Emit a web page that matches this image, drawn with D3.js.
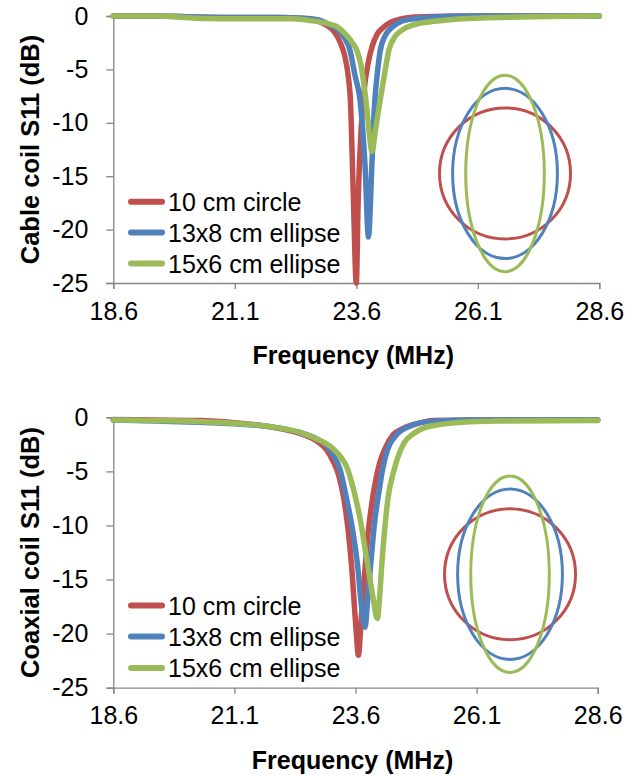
<!DOCTYPE html>
<html>
<head>
<meta charset="utf-8">
<script src="https://cdn.jsdelivr.net/npm/d3@7"></script>
<style>
  html, body { margin: 0; padding: 0; background: #fff; }
  svg { display: block; }
  text { font-family: "Liberation Sans", Arial, sans-serif; fill: #000; }
</style>
</head>
<body>
<svg id="chart" width="626" height="775"></svg>
<script>
// ---------------- data ----------------
const seriesNames = ["10 cm circle", "13x8 cm ellipse", "15x6 cm ellipse"];
const freqTicks = [18.6, 21.1, 23.6, 26.1, 28.6];
const s11Ticks = [0, -5, -10, -15, -20, -25];
const coilWidthCm = [10, 8, 6];
const coilHeightCm = [10, 13, 15];

// Cable coil
const cableCircleFreq = [18.6, 19.5, 20.3, 21.2, 22.0, 22.5, 22.8, 23.0, 23.15, 23.28, 23.36, 23.43, 23.48, 23.54, 23.6, 23.64, 23.7, 23.76, 23.84, 23.93, 24.03, 24.15, 24.3, 24.5, 24.8, 26.0, 27.0, 28.6];
const cableCircleS11 = [0, 0, -0.1, -0.15, -0.15, -0.2, -0.45, -0.9, -1.5, -2.6, -3.7, -5.5, -8, -17, -25, -17, -10.5, -7, -4.5, -2.8, -1.7, -1.1, -0.6, -0.3, -0.1, 0, 0, 0];

const cableEllipse13Freq = [18.6, 19.5, 20.3, 21.2, 22.0, 22.5, 22.8, 23.0, 23.2, 23.35, 23.47, 23.57, 23.68, 23.78, 23.85, 23.92, 23.98, 24.03, 24.09, 24.2, 24.35, 24.5, 24.8, 25.2, 26.0, 27.0, 28.6];
const cableEllipse13S11 = [0, 0, -0.1, -0.15, -0.15, -0.2, -0.35, -0.7, -1.2, -2.0, -3.2, -5.5, -8, -14, -20.7, -14, -8, -5.5, -3.3, -1.8, -1.0, -0.55, -0.25, -0.1, 0, 0, 0];

const cableEllipse15Freq = [18.6, 19.5, 20.3, 21.2, 22.0, 22.3, 22.7, 23.0, 23.2, 23.4, 23.52, 23.61, 23.7, 23.76, 23.82, 23.88, 23.92, 24.0, 24.09, 24.19, 24.27, 24.4, 24.55, 24.8, 25.2, 25.8, 26.5, 27.5, 28.6];
const cableEllipse15S11 = [0, 0, -0.2, -0.25, -0.25, -0.25, -0.45, -0.7, -1.0, -1.8, -2.5, -3.2, -4.7, -6.5, -8.8, -11.5, -12.7, -10.5, -7.9, -5.2, -3.2, -1.9, -1.3, -0.8, -0.5, -0.25, -0.15, -0.05, 0];

// Coaxial coil
const coaxCircleFreq = [18.6, 19.5, 20.4, 21.1, 21.8, 22.45, 22.8, 23.0, 23.14, 23.25, 23.35, 23.45, 23.52, 23.61, 23.66, 23.72, 23.78, 23.86, 23.97, 24.1, 24.22, 24.38, 24.55, 24.86, 25.2, 26.0, 27.0, 28.6];
const coaxCircleS11 = [-0.2, -0.25, -0.3, -0.5, -0.85, -1.5, -2.2, -3.0, -4.1, -5.3, -7.3, -10.5, -13.8, -19.5, -22, -18.5, -15, -10.7, -7, -4.2, -2.8, -1.6, -1.1, -0.6, -0.3, -0.25, -0.25, -0.25];

const coaxEllipse13Freq = [18.6, 19.5, 20.4, 21.1, 21.8, 22.45, 22.8, 23.0, 23.14, 23.28, 23.4, 23.55, 23.65, 23.71, 23.76, 23.8, 23.84, 23.91, 24.0, 24.08, 24.16, 24.26, 24.45, 24.7, 25.1, 26.0, 27.0, 28.6];
const coaxEllipse13S11 = [-0.25, -0.35, -0.45, -0.6, -0.85, -1.4, -2.0, -2.6, -3.5, -4.8, -7.2, -10.7, -14, -16.9, -18.8, -19.4, -17.5, -13.8, -9.5, -7, -4.8, -3.0, -1.6, -0.85, -0.4, -0.25, -0.25, -0.25];

const coaxEllipse15Freq = [18.6, 19.5, 20.4, 21.1, 21.8, 22.45, 22.8, 23.14, 23.3, 23.42, 23.52, 23.6, 23.7, 23.8, 23.9, 23.97, 24.05, 24.1, 24.14, 24.2, 24.27, 24.4, 24.6, 24.8, 25.0, 25.3, 25.8, 26.5, 28.6];
const coaxEllipse15S11 = [-0.25, -0.3, -0.4, -0.55, -0.85, -1.4, -2.0, -2.9, -3.7, -4.6, -6.0, -7.4, -9.5, -12.2, -15, -16.9, -18.6, -16.5, -13.8, -10.5, -7.5, -4.8, -2.4, -1.5, -1.0, -0.7, -0.45, -0.35, -0.3];

// ---------------- drawing ----------------
const colors = ["#C0504D", "#4F81BD", "#9BBB59"];
const axisColor = "#868686";
const svg = d3.select("#chart");

function zip(f, v) { return f.map((d, i) => ({ f: d, v: v[i] })); }

function drawPanel(cfg) {
  const x = d3.scaleLinear().domain([18.6, 28.6]).range([cfg.left, cfg.right]);
  const y = d3.scaleLinear().domain([0, -25]).range([cfg.top, cfg.bottom]);
  const g = svg.append("g");

  // y axis
  const yAxis = d3.axisLeft(y).tickValues(s11Ticks).tickSize(7).tickPadding(18)
    .tickFormat(d3.format("d"));
  const ya = g.append("g").attr("transform", `translate(${cfg.left},0)`).call(yAxis);
  ya.select(".domain").attr("stroke", axisColor).attr("stroke-width", 1.3);
  ya.selectAll(".tick line").attr("stroke", axisColor).attr("stroke-width", 1.3);
  ya.selectAll(".tick text").style("font-size", "25px").attr("fill", "#000")
    .text(d => d === 0 ? "0" : String(d).replace("−", "-"));

  // x axis
  const xAxis = d3.axisBottom(x).tickValues(freqTicks).tickSize(6).tickPadding(13)
    .tickFormat(d3.format(".1f"));
  const xa = g.append("g").attr("transform", `translate(0,${cfg.bottom})`).call(xAxis);
  xa.select(".domain").attr("stroke", axisColor).attr("stroke-width", 1.3);
  xa.selectAll(".tick line").attr("stroke", axisColor).attr("stroke-width", 1.3);
  xa.selectAll(".tick text").style("font-size", "25px").attr("fill", "#000");

  // coil shape inset
  const cm = d3.scaleLinear().domain([0, 1]).range([0, cfg.pxPerCm]);
  const cx = x(cfg.insetF), cy = y(cfg.insetV);
  g.selectAll("ellipse.coil").data(coilWidthCm).enter().append("ellipse")
    .attr("class", "coil")
    .attr("cx", cx).attr("cy", cy)
    .attr("rx", (d) => cm(d) / 2)
    .attr("ry", (d, i) => cm(coilHeightCm[i]) / 2)
    .attr("fill", "none")
    .attr("stroke", (d, i) => colors[i])
    .attr("stroke-width", 3);

  // series lines
  const line = d3.line().x(d => x(d.f)).y(d => y(d.v)).curve(d3.curveMonotoneX);
  cfg.series.forEach((s, i) => {
    g.append("path").datum(zip(s[0], s[1]))
      .attr("d", line)
      .attr("fill", "none")
      .attr("stroke", colors[i])
      .attr("stroke-width", 5.5)
      .attr("stroke-linejoin", "round")
      .attr("stroke-linecap", "round");
  });

  // legend
  const h = cfg.bottom - cfg.top;
  const rows = [0.696, 0.811, 0.927];
  seriesNames.forEach((name, i) => {
    const ry = cfg.top + rows[i] * h;
    g.append("line").attr("x1", 131).attr("x2", 162).attr("y1", ry).attr("y2", ry)
      .attr("stroke", colors[i]).attr("stroke-width", 6).attr("stroke-linecap", "round");
    g.append("text").attr("x", 168).attr("y", ry + 9.5)
      .style("font-size", "25px").text(name);
  });

  // axis titles
  g.append("text")
    .attr("x", (cfg.left + cfg.right) / 2 - 3)
    .attr("y", cfg.bottom + 81)
    .attr("text-anchor", "middle")
    .style("font-size", "25px").style("font-weight", "bold")
    .text("Frequency (MHz)");
  g.append("text")
    .attr("transform", `translate(39,${(cfg.top + cfg.bottom) / 2}) rotate(-90)`)
    .attr("text-anchor", "middle")
    .style("font-size", "25.5px").style("font-weight", "bold")
    .text(cfg.yTitle);
}

drawPanel({
  left: 113.3, right: 599.3, top: 16, bottom: 283,
  yTitle: "Cable coil S11 (dB)",
  insetF: 26.66, insetV: -14.74, pxPerCm: 13.1,
  series: [
    [cableCircleFreq, cableCircleS11],
    [cableEllipse13Freq, cableEllipse13S11],
    [cableEllipse15Freq, cableEllipse15S11]
  ]
});

drawPanel({
  left: 113.3, right: 597.7, top: 417.3, bottom: 687.7,
  yTitle: "Coaxial coil S11 (dB)",
  insetF: 26.79, insetV: -14.51, pxPerCm: 13.1,
  series: [
    [coaxCircleFreq, coaxCircleS11],
    [coaxEllipse13Freq, coaxEllipse13S11],
    [coaxEllipse15Freq, coaxEllipse15S11]
  ]
});
</script>
</body>
</html>
